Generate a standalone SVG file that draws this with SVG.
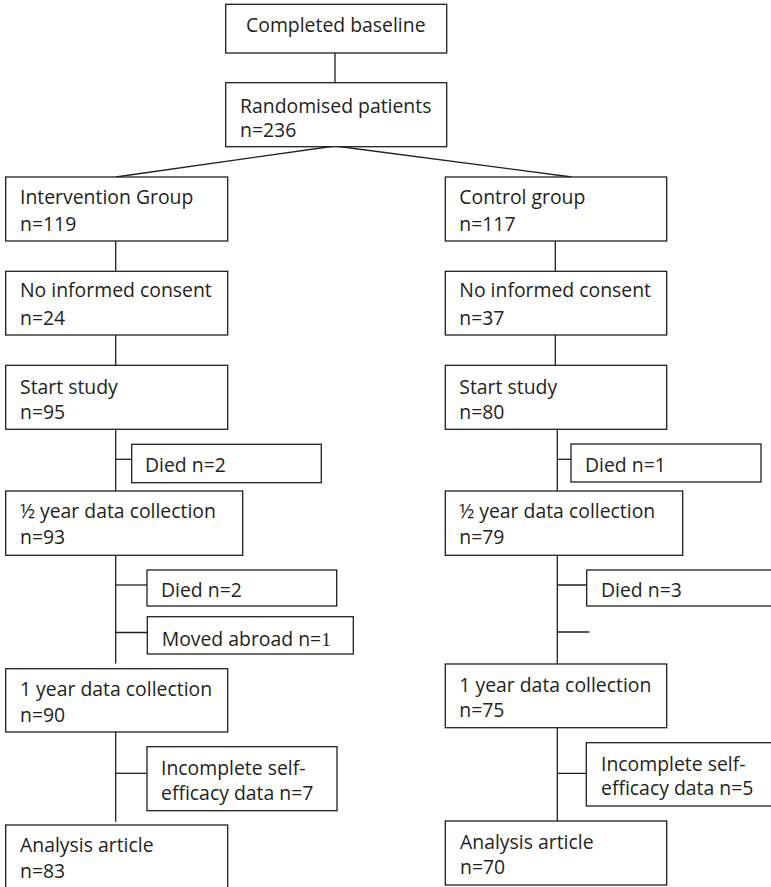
<svg xmlns="http://www.w3.org/2000/svg" width="771" height="887" viewBox="0 0 771 887">
<style>
.b{fill:#fff;stroke:#231f20;stroke-width:1.3}
.c line{stroke:#231f20;stroke-width:1.3}
text{font-family:"Open Sans","Noto Sans","DejaVu Sans",sans-serif;font-size:19.4px;fill:#231f20}
</style>
<rect width="771" height="887" fill="#fff"/>
<g class="c" id="connectors">
<line x1="335" y1="53" x2="335" y2="82.7"/>
<line x1="335" y1="146" x2="115.7" y2="177"/>
<line x1="335" y1="146" x2="571.7" y2="177"/>
<line x1="115.7" y1="241" x2="115.7" y2="271.3"/>
<line x1="115.7" y1="335" x2="115.7" y2="365.3"/>
<line x1="115.7" y1="429.3" x2="115.7" y2="491"/>
<line x1="115.7" y1="555.3" x2="115.7" y2="663.5"/>
<line x1="115.7" y1="732" x2="115.7" y2="821.7"/>
<line x1="115.7" y1="459.3" x2="131.7" y2="459.3"/>
<line x1="115.7" y1="585" x2="147" y2="585"/>
<line x1="115.7" y1="632.5" x2="147.3" y2="632.5"/>
<line x1="115.7" y1="773.3" x2="147" y2="773.3"/>
<line x1="555.3" y1="241" x2="555.3" y2="271.3"/>
<line x1="555.3" y1="335" x2="555.3" y2="365.3"/>
<line x1="557.3" y1="429.3" x2="557.3" y2="491"/>
<line x1="557.3" y1="555.3" x2="557.3" y2="664"/>
<line x1="557.3" y1="727.7" x2="557.3" y2="821"/>
<line x1="557.3" y1="459.3" x2="573.3" y2="459.3"/>
<line x1="557.3" y1="585" x2="589.3" y2="585"/>
<line x1="557.3" y1="632" x2="589.3" y2="632"/>
<line x1="557.3" y1="773.3" x2="589.3" y2="773.3"/>
</g>
<g id="baseline"><rect class="b" x="225.7" y="4.3" width="221" height="48.7"/><text x="246" y="32.3">Completed baseline</text></g>
<g id="randomised"><rect class="b" x="225.7" y="82.7" width="221" height="64"/><text x="240" y="112.5">Randomised patients</text><text x="240" y="136.7">n=236</text></g>
<g id="intervention"><rect class="b" x="5.7" y="177" width="222" height="64"/><text x="20" y="204">Intervention Group</text><text x="20" y="230.7">n=119</text></g>
<g id="control"><rect class="b" x="445.3" y="177" width="221.4" height="64"/><text x="459.3" y="204">Control group</text><text x="459.3" y="230.7">n=117</text></g>
<g id="nic-left"><rect class="b" x="5.7" y="271.3" width="222" height="63.7"/><text x="20" y="297">No informed consent</text><text x="20" y="325">n=24</text></g>
<g id="nic-right"><rect class="b" x="445.3" y="271.3" width="221.4" height="63.7"/><text x="459.3" y="297">No informed consent</text><text x="459.3" y="325">n=37</text></g>
<g id="start-left"><rect class="b" x="5.7" y="365.3" width="222" height="64"/><text x="20" y="394">Start study</text><text x="20" y="419.3">n=95</text></g>
<g id="start-right"><rect class="b" x="445.3" y="365.3" width="221.4" height="64"/><text x="459.3" y="394">Start study</text><text x="459.3" y="419.3">n=80</text></g>
<g id="died-left-1"><rect class="b" x="131.7" y="444.3" width="189.6" height="38.4"/><text x="145" y="471.7">Died n=2</text></g>
<g id="died-right-1"><rect class="b" x="571" y="444" width="190" height="38"/><text x="585" y="472">Died n=1</text></g>
<g id="half-left"><rect class="b" x="5.7" y="491" width="237" height="64.3"/><text x="20" y="518.3">½ year data collection</text><text x="20" y="544">n=93</text></g>
<g id="half-right"><rect class="b" x="445.3" y="491" width="237.4" height="64.3"/><text x="459.3" y="518.3">½ year data collection</text><text x="459.3" y="543.5">n=79</text></g>
<g id="died-left-2"><rect class="b" x="147" y="570" width="189.7" height="36"/><text x="161" y="596.7">Died n=2</text></g>
<g id="died-right-2"><rect class="b" x="586.7" y="570" width="200" height="36"/><text x="601" y="596.7">Died n=3</text></g>
<g id="moved-left"><rect class="b" x="147.3" y="616.7" width="206" height="37.3"/><text x="161.7" y="646">Moved abroad n=<tspan font-family="Liberation Serif,serif">1</tspan></text></g>
<g id="year-left"><rect class="b" x="5.7" y="668.7" width="222" height="63.3"/><text x="20" y="696">1 year data collection</text><text x="20" y="721.7">n=90</text></g>
<g id="year-right"><rect class="b" x="445.3" y="664" width="221.4" height="63.7"/><text x="459.3" y="691.7">1 year data collection</text><text x="459.3" y="717.3">n=75</text></g>
<g id="incomplete-left"><rect class="b" x="147" y="746.7" width="190" height="64"/><text x="161" y="775">Incomplete self-</text><text x="161" y="800">efficacy data n=7</text></g>
<g id="incomplete-right"><rect class="b" x="586.3" y="742.7" width="200" height="63.3"/><text x="601" y="770.7">Incomplete self-</text><text x="601" y="795">efficacy data n=5</text></g>
<g id="analysis-left"><rect class="b" x="5.7" y="825" width="222" height="80"/><text x="20" y="852.3">Analysis article</text><text x="20" y="878">n=83</text></g>
<g id="analysis-right"><rect class="b" x="445.3" y="821" width="221.4" height="64"/><text x="460" y="848.5">Analysis article</text><text x="460" y="874.3">n=70</text></g>
</svg>
